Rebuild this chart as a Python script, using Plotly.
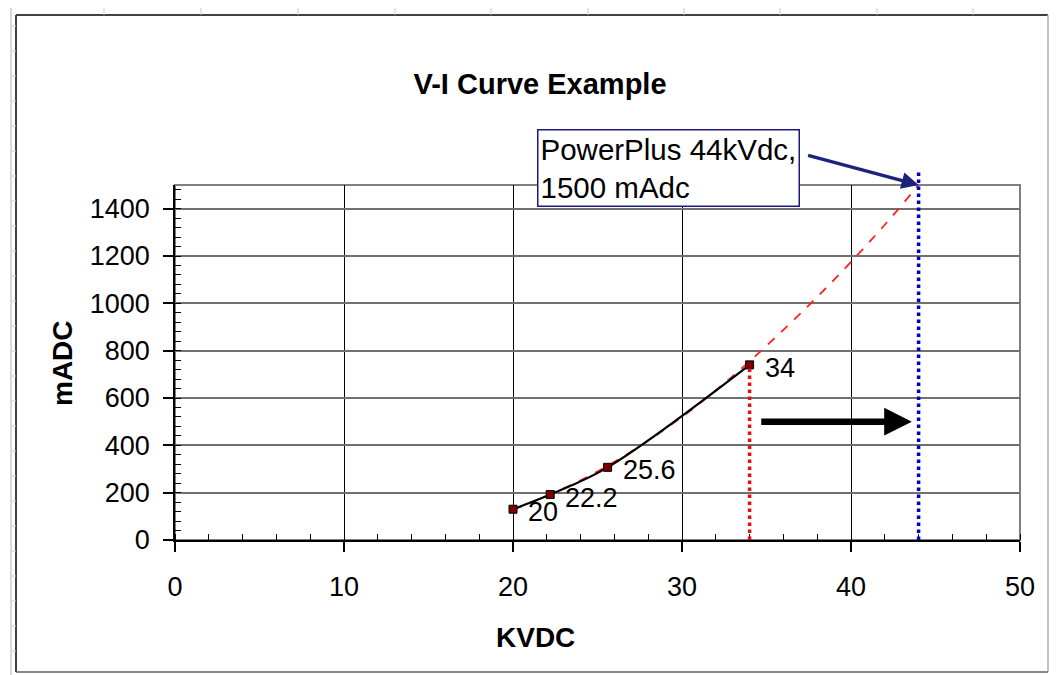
import plotly.graph_objects as go

# ---- data ----
kv_points = [20, 22.2, 25.6, 34]
ma_points = [130, 192, 307, 740]
point_labels = ["20", "22.2", "25.6", "34"]

trend_kv = [20, 22, 24, 26, 28, 30, 32, 34, 36, 38, 40, 42, 44]
trend_ma = [128, 186, 252, 330, 420, 520, 632, 755, 888, 1027, 1175, 1332, 1500]

limit_now_kv = 34
limit_now_ma = 740
pp_kv = 44
pp_ma = 1500
pp_line_top = 1555
arrow_ma = 500
arrow_kv_from = 34.6
arrow_kv_to = 43.6

x_ticks = [0, 10, 20, 30, 40, 50]
y_ticks = [0, 200, 400, 600, 800, 1000, 1200, 1400]

FONT = "Liberation Sans, Arial, sans-serif"
OFF = 8  # page body margin
W, H = 1057 - OFF, 675 - OFF
L, R, T, B = 175 - OFF, 37, 185 - OFF, 135
PW, PH = W - L - R, H - T - B


def px(xp):
    return (xp - OFF - L) / PW


def py(yp):
    return (H - B - (yp - OFF)) / PH


fig = go.Figure()

# red dashed trend
fig.add_trace(go.Scatter(x=trend_kv, y=trend_ma, mode="lines",
                         line=dict(color="#ff2020", width=1.8, dash="dash", shape="spline"),
                         hoverinfo="skip", showlegend=False))
# black measured curve
fig.add_trace(go.Scatter(x=kv_points, y=ma_points, mode="lines+markers",
                         line=dict(color="black", width=2.2, shape="spline"),
                         marker=dict(symbol="square", size=8, color="#7a0000",
                                     line=dict(color="black", width=1)),
                         showlegend=False))

shapes = []
# plot area border
shapes.append(dict(type="rect", xref="paper", yref="paper", x0=0, y0=0, x1=1, y1=1,
                   line=dict(color="#808080", width=2), layer="below"))
# vertical dotted limits
shapes.append(dict(type="line", xref="x", yref="y", x0=limit_now_kv, x1=limit_now_kv,
                   y0=0, y1=limit_now_ma, line=dict(color="#e01010", width=3.5, dash="dot")))
shapes.append(dict(type="line", xref="x", yref="paper", x0=pp_kv, x1=pp_kv,
                   y0=0, y1=pp_line_top / 1500, line=dict(color="#0000c0", width=3.5, dash="dot")))

# chart area border (Excel chart frame)
shapes.append(dict(type="line", xref="paper", yref="paper", x0=px(16), x1=px(1048),
                   y0=py(15), y1=py(15), line=dict(color="#404040", width=2)))
shapes.append(dict(type="line", xref="paper", yref="paper", x0=px(16), x1=px(16),
                   y0=py(15), y1=py(672), line=dict(color="#404040", width=2)))
shapes.append(dict(type="line", xref="paper", yref="paper", x0=px(1048), x1=px(1048),
                   y0=py(15), y1=py(672), line=dict(color="#b0b0b0", width=1.5)))
shapes.append(dict(type="line", xref="paper", yref="paper", x0=px(16), x1=px(1048),
                   y0=py(672), y1=py(672), line=dict(color="#606060", width=1.5)))
# spreadsheet grid remnants
shapes.append(dict(type="line", xref="paper", yref="paper", x0=px(11), x1=px(11),
                   y0=py(8), y1=py(675), line=dict(color="#cccccc", width=1.5)))
for cx in [104, 201, 298, 395, 491, 588, 684, 780, 877, 973]:
    shapes.append(dict(type="line", xref="paper", yref="paper", x0=px(cx), x1=px(cx),
                       y0=py(8), y1=py(15), line=dict(color="#cccccc", width=1)))
for ry in range(26, 675, 25):
    shapes.append(dict(type="line", xref="paper", yref="paper", x0=px(11), x1=px(16),
                       y0=py(ry), y1=py(ry), line=dict(color="#cccccc", width=1)))

annotations = []
# data labels
for xv, yv, lab in zip(kv_points, ma_points, point_labels):
    annotations.append(dict(x=xv, y=yv, xref="x", yref="y", text=lab, showarrow=False,
                            xanchor="left", yanchor="middle", xshift=13, yshift=-3,
                            font=dict(family=FONT, size=27, color="black")))
# black arrow
annotations.append(dict(x=arrow_kv_to, y=arrow_ma, ax=arrow_kv_from, ay=arrow_ma,
                        xref="x", yref="y", axref="x", ayref="y", text="",
                        showarrow=True, arrowhead=2, arrowsize=0.85, arrowwidth=6.5,
                        arrowcolor="black"))
# callout box
annotations.append(dict(x=px(537), y=py(168), xref="paper", yref="paper",
                        text="PowerPlus 44kVdc,<br>1500 mAdc", showarrow=False,
                        xanchor="left", yanchor="middle", align="left",
                        font=dict(family=FONT, size=29.5, color="black"),
                        bordercolor="#1a1a80", borderwidth=1.5, borderpad=2,
                        bgcolor="white"))
# blue callout arrow
annotations.append(dict(x=pp_kv, y=pp_ma, xref="x", yref="y", ax=-112, ay=-30,
                        text="", showarrow=True, arrowhead=2, arrowsize=1,
                        arrowwidth=3.4, arrowcolor="#1a237e", standoff=0))
# axis titles
annotations.append(dict(x=px(535), y=py(637), xref="paper", yref="paper",
                        text="<b>KVDC</b>", showarrow=False, xanchor="center", yanchor="middle",
                        font=dict(family=FONT, size=28, color="black")))
annotations.append(dict(x=px(62), y=py(363), xref="paper", yref="paper",
                        text="<b>mADC</b>", showarrow=False, xanchor="center", yanchor="middle",
                        textangle=-90,
                        font=dict(family=FONT, size=28, color="black")))

fig.update_layout(
    width=W, height=H,
    margin=dict(l=L, r=R, t=T, b=B),
    paper_bgcolor="white", plot_bgcolor="white",
    font=dict(family=FONT, color="black"),
    title=dict(text="<b>V-I Curve Example</b>", xref="container", yref="container",
               x=(540 - OFF) / W, xanchor="center",
               y=1 - (84 - OFF) / H, yanchor="middle",
               font=dict(family=FONT, size=29, color="black")),
    shapes=shapes, annotations=annotations,
    showlegend=False,
)

fig.update_xaxes(range=[0, 50], tickvals=x_ticks, ticktext=[str(v) for v in x_ticks],
                 showgrid=True, gridcolor="black", gridwidth=1,
                 showline=True, linecolor="black", linewidth=1.5,
                 ticks="outside", ticklen=10, tickcolor="black", tickwidth=1.5,
                 zeroline=False, ticklabelstandoff=12,
                 tickfont=dict(family=FONT, size=27, color="black"),
                 minor=dict(dtick=2, ticks="inside", ticklen=6, tickcolor="black",
                            tickwidth=1.2, showgrid=False))
fig.update_yaxes(range=[0, 1500], tickvals=y_ticks, ticktext=[str(v) for v in y_ticks],
                 showgrid=True, gridcolor="#707070", gridwidth=2,
                 showline=True, linecolor="black", linewidth=1.5,
                 ticks="outside", ticklen=10, tickcolor="black", tickwidth=1.5,
                 zeroline=False, ticklabelstandoff=8,
                 tickfont=dict(family=FONT, size=27, color="black"),
                 minor=dict(dtick=40, ticks="inside", ticklen=6, tickcolor="black",
                            tickwidth=1.2, showgrid=False))

fig.write_html("out.html")
